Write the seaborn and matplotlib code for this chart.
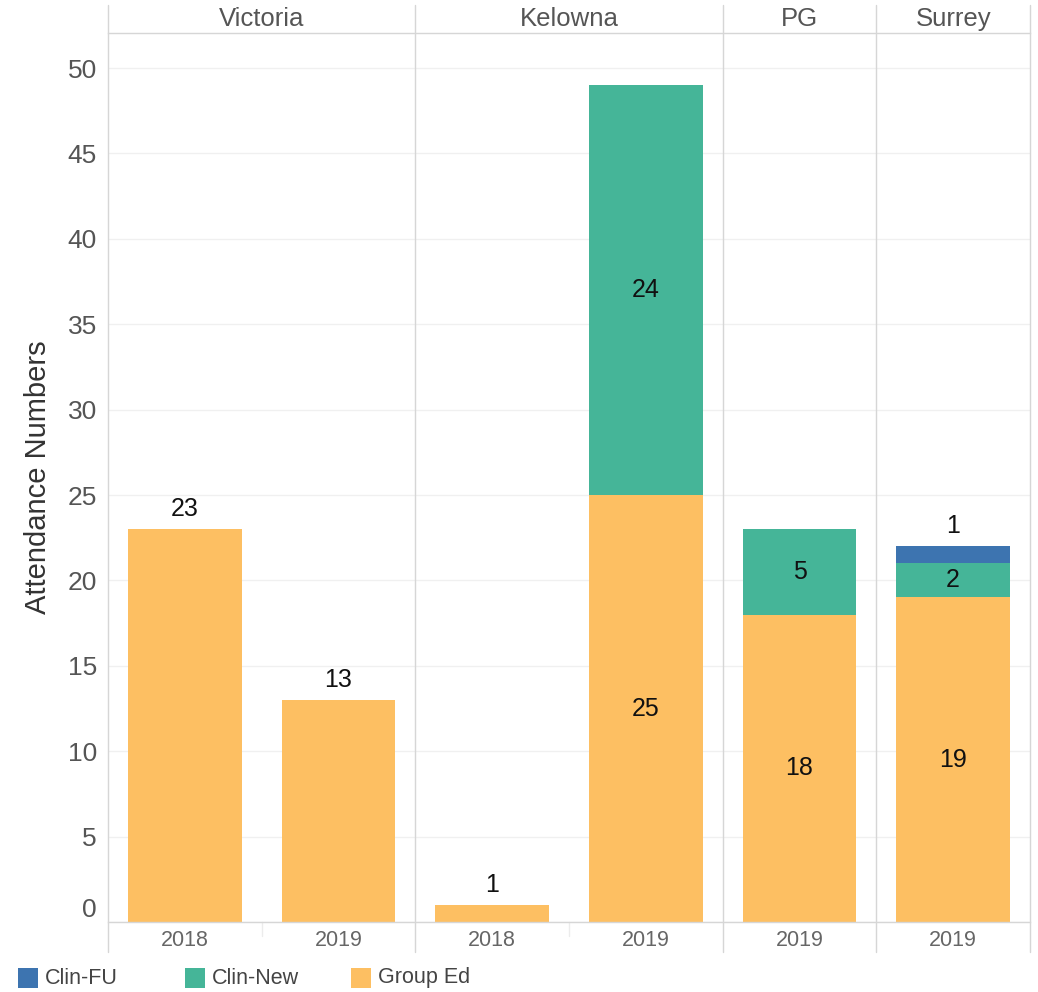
import numpy as np
import pandas as pd
import matplotlib.pyplot as plt
import matplotlib.transforms as mtransforms
import seaborn as sns
from matplotlib.patches import Rectangle

# ── Data ──
sites = ["Victoria", "Victoria", "Kelowna", "Kelowna", "PG", "Surrey"]
years = ["2018", "2019", "2018", "2019", "2019", "2019"]
group_ed = [23, 13, 1, 25, 18, 19]
clin_new = [0, 0, 0, 24, 5, 2]
clin_fu = [0, 0, 0, 0, 0, 1]
site_order = ["Victoria", "Kelowna", "PG", "Surrey"]
categories = ["Clin-FU", "Clin-New", "Group Ed"]
y_ticks = list(range(0, 51, 5))

colors = {"Clin-FU": "#3d74b0", "Clin-New": "#45b598", "Group Ed": "#fdbf62"}
GRID = "#f0f0f0"
LINE = "#d6d6d6"

sns.set_style("white")
plt.rcParams["font.family"] = ["Liberation Sans", "DejaVu Sans"]

df = pd.DataFrame({"site": sites, "year": years, "Group Ed": group_ed,
                   "Clin-New": clin_new, "Clin-FU": clin_fu})
df["slot"] = df["site"] + " " + df["year"]
df["top_ge"] = df["Group Ed"]
df["top_cn"] = df["top_ge"] + df["Clin-New"]
df["top_fu"] = df["top_cn"] + df["Clin-FU"]
order = list(df["slot"])

W, H = 1038, 992
fig = plt.figure(figsize=(W / 100, H / 100), dpi=100)
ax_h = 922 - 33
ax = fig.add_axes([108 / W, (H - 922) / H, (1030 - 108) / W, ax_h / H])

# stacked bars: draw cumulative tops, tallest first
for col, cat in [("top_fu", "Clin-FU"), ("top_cn", "Clin-New"), ("top_ge", "Group Ed")]:
    sns.barplot(data=df, x="slot", y=col, order=order, color=colors[cat],
                saturation=1, width=0.74, errorbar=None, linewidth=0, ax=ax)

# segment labels
for i, row in df.iterrows():
    segs = [(c, row[c]) for c in ["Group Ed", "Clin-New", "Clin-FU"]]
    nonzero = [(c, v) for c, v in segs if v > 0]
    bottom = 0
    for k, (c, v) in enumerate(nonzero):
        last = k == len(nonzero) - 1
        if last and (len(nonzero) == 1 or v < 1.5):
            ax.annotate(str(v), (i, bottom + v), xytext=(0, 6), textcoords="offset points",
                        ha="center", va="bottom", fontsize=18, color="#111111")
        else:
            ax.text(i, bottom + v / 2, str(v), ha="center", va="center",
                    fontsize=18, color="#111111")
        bottom += v

ax.set_xlim(-0.5, len(order) - 0.5)
ax.set_ylim(0, 52.05)
ax.set_yticks(y_ticks)
ax.set_yticklabels([str(t) for t in y_ticks])
ax.yaxis.grid(True, color=GRID, lw=1)
ax.set_axisbelow(True)
ax.tick_params(axis="y", length=0, pad=8, labelsize=19, labelcolor="#555555")
ax.get_yticklabels()[0].set_va("bottom")
ax.set_xticks(range(len(order)))
ax.set_xticklabels(years)
ax.tick_params(axis="x", length=0, pad=6, labelsize=15.5, labelcolor="#666666")
ax.set_xlabel("")
ax.set_ylabel("Attendance Numbers", fontsize=21, color="#333333")
ax.yaxis.set_label_coords(-0.0607, 0.5)

for s in ["left", "right"]:
    ax.spines[s].set_visible(False)
for s in ["top", "bottom"]:
    ax.spines[s].set_color(LINE)
    ax.spines[s].set_linewidth(1)

# panel separators and headers
trans = mtransforms.blended_transform_factory(ax.transData, ax.transAxes)
idx = np.arange(len(sites))
bounds = [-0.5]
for site in site_order:
    pos = idx[np.array(sites) == site]
    bounds.append(pos.max() + 0.5)
    ax.text(pos.mean(), 1 + 14 / ax_h, site, transform=trans, ha="center",
            va="center", fontsize=18.5, color="#555555")
    for p in pos[1:]:
        ax.axvline(p - 0.5, ymin=-14 / ax_h, ymax=0, color="#ececec", lw=1, clip_on=False)
for b in bounds:
    ax.axvline(b, ymin=-30 / ax_h, ymax=1 + 28 / ax_h, color=LINE, lw=1, clip_on=False)

# legend
for cat, x0 in zip(categories, [18, 185, 351]):
    fig.add_artist(Rectangle((x0 / W, (H - 988) / H), 20 / W, 20 / H,
                             transform=fig.transFigure, color=colors[cat], lw=0))
    fig.text((x0 + 27) / W, (H - 978) / H, cat, va="center", ha="left",
             fontsize=15.5, color="#444444")

fig.savefig("out.png", dpi=100)
